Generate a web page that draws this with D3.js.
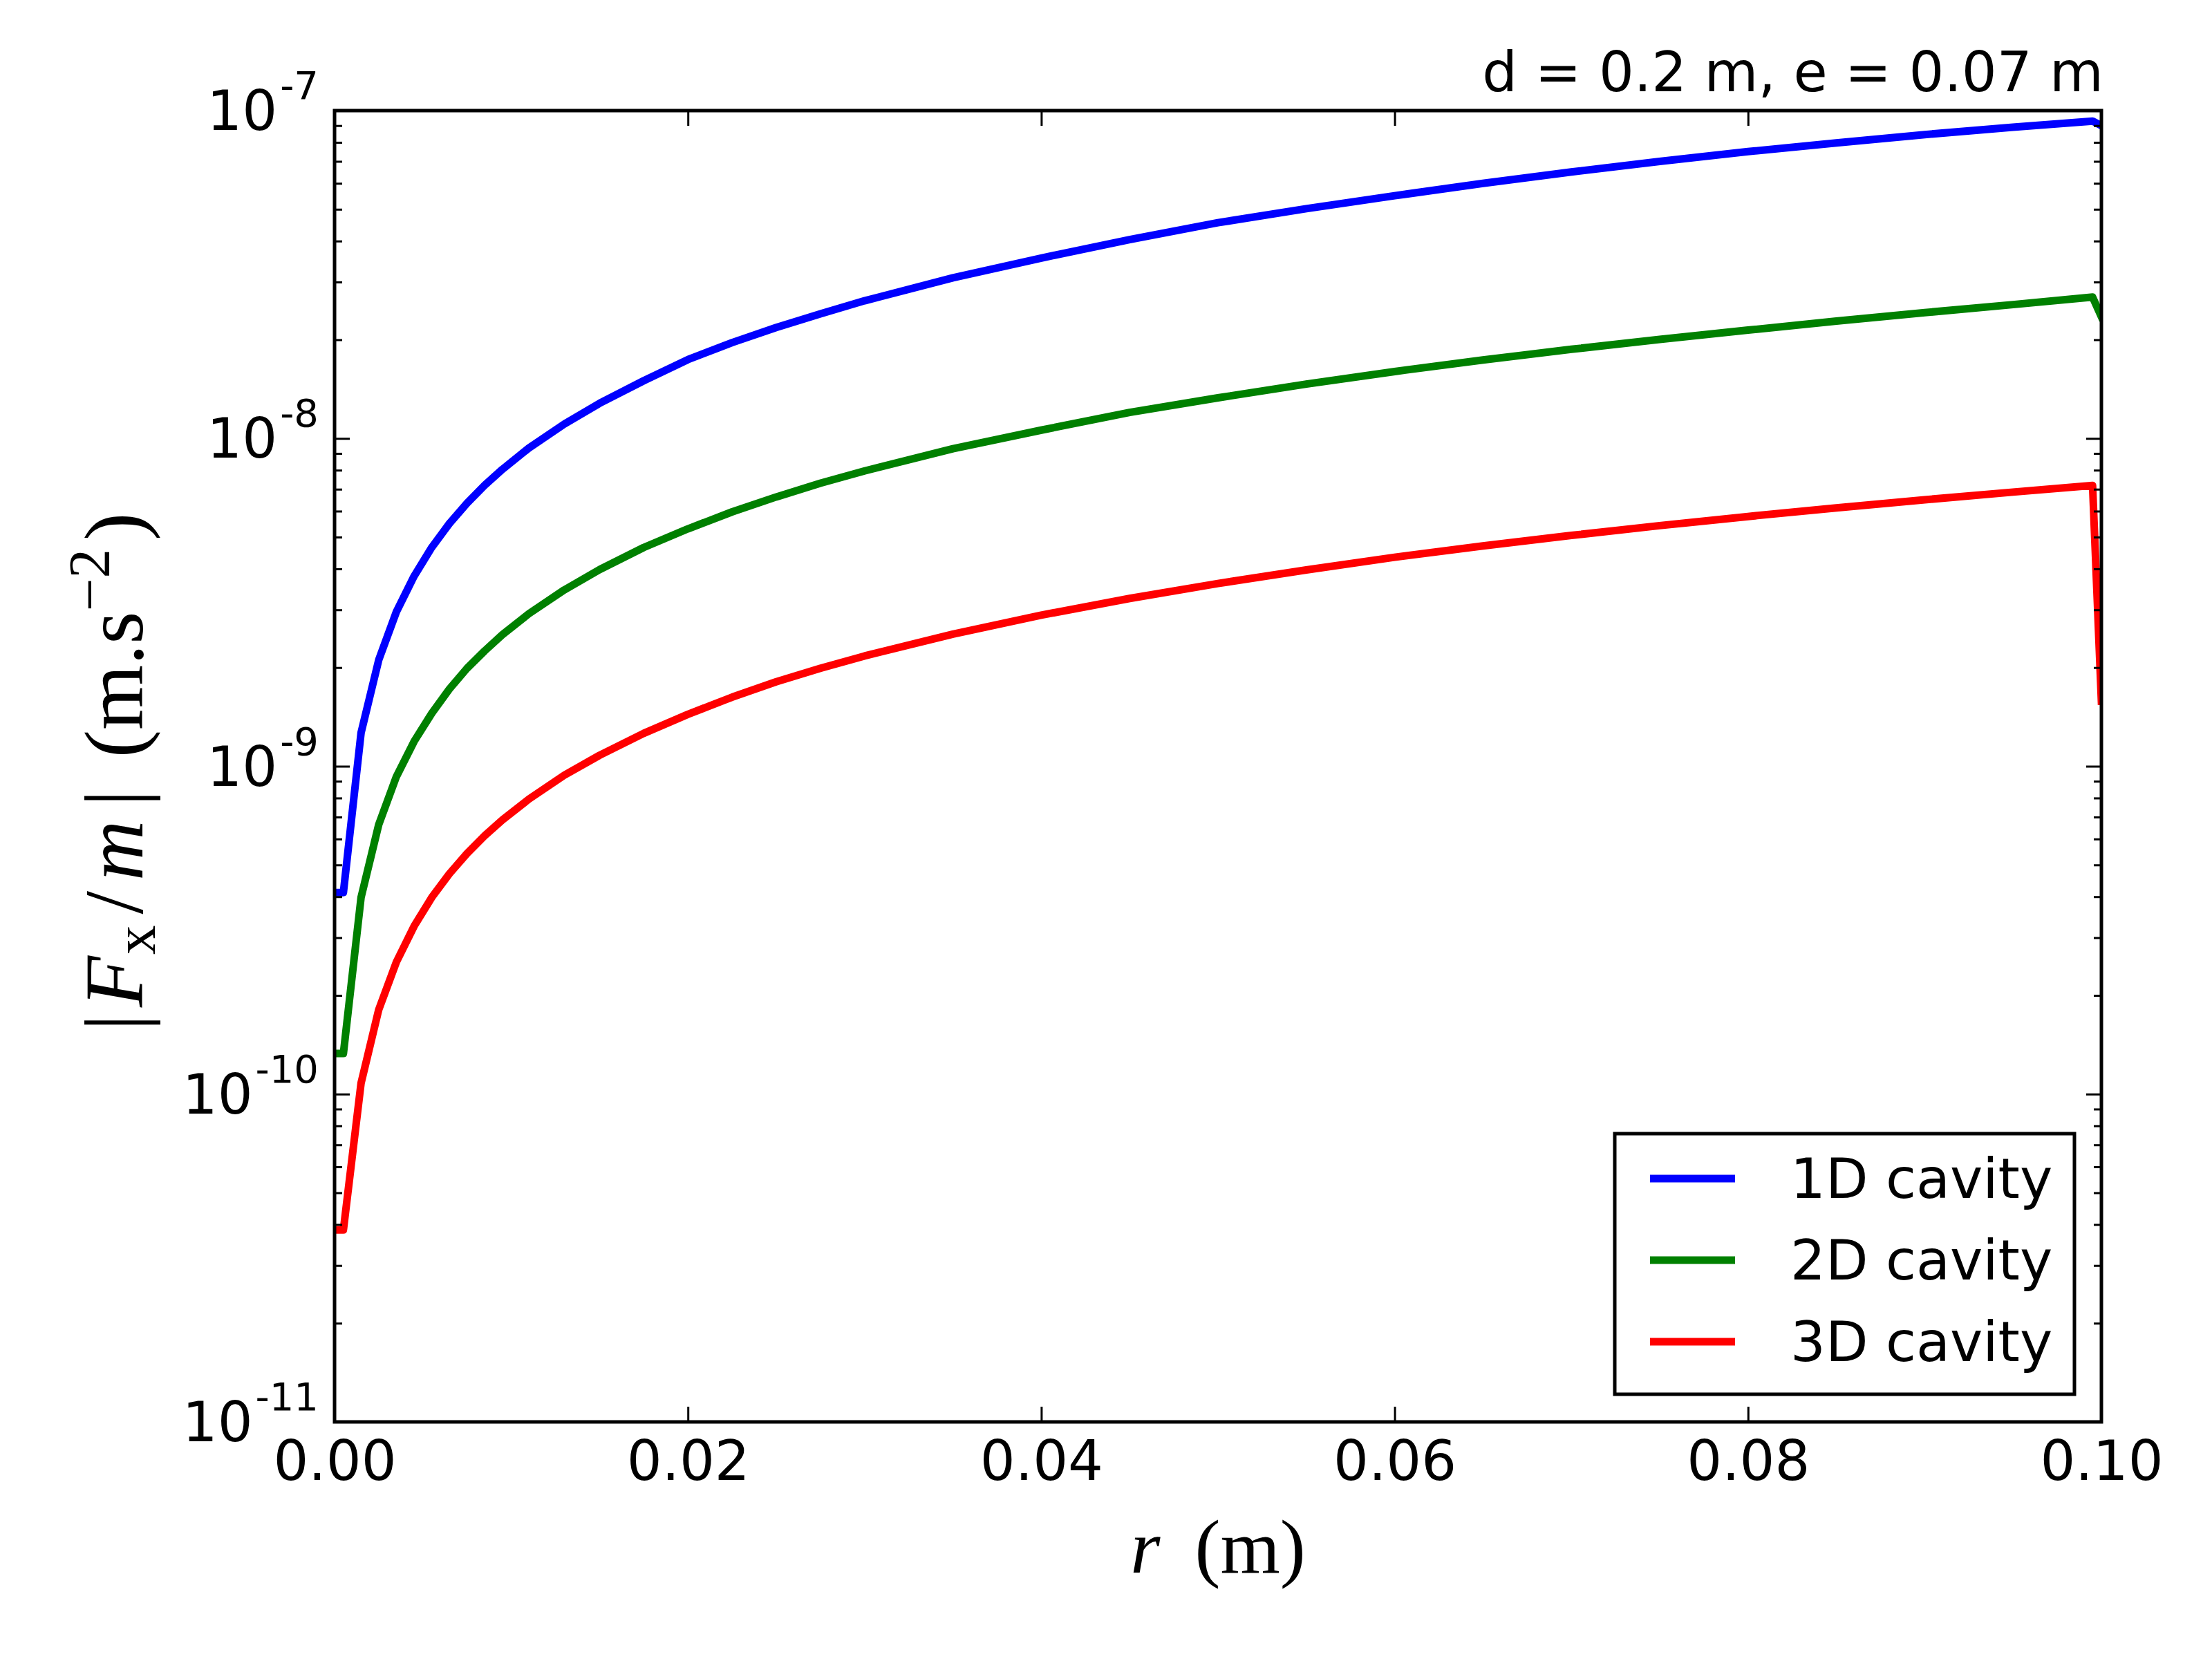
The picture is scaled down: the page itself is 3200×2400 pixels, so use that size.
<!DOCTYPE html>
<meta charset="utf-8">
<script src="https://d3js.org/d3.v7.min.js"></script>
<style type="text/css">
body { margin: 0; background: #fff; }
.axis path { display: none; }
.axis line { stroke: #000; stroke-width: 3; }
.axis text { font-family: "DejaVu Sans"; font-size: 80px; fill: #000; }
.rotulo { font-family: "DejaVu Sans"; font-size: 80px; fill: #000; }
.tex { font-family: "Liberation Serif", "DejaVu Serif", serif; fill: #000; }
</style>
<body>
<div id="canvas"></div>
<script>

// valores de r (m)
var rValues = [0, 0.0005, 0.0015, 0.0025, 0.0035, 0.0045, 0.0055, 0.0065, 0.0075, 0.0085, 0.0095,
               0.011, 0.013, 0.015, 0.0175, 0.02, 0.0225, 0.025, 0.0275, 0.03, 0.035, 0.04, 0.045,
               0.05, 0.055, 0.06, 0.065, 0.07, 0.075, 0.08, 0.085, 0.09, 0.095, 0.0995, 0.1];

// |Fx/m| para cada cavidade (m.s^-2)
var cavity1D = [4.12e-10, 4.12e-10, 1.265e-9, 2.11e-9, 2.96e-9, 3.80e-9, 4.65e-9, 5.50e-9, 6.35e-9, 7.2e-9, 8.05e-9,
                9.35e-9, 1.106e-8, 1.28e-8, 1.50e-8, 1.74e-8, 1.96e-8, 2.18e-8, 2.40e-8, 2.63e-8, 3.09e-8, 3.55e-8, 4.04e-8,
                4.55e-8, 5.02e-8, 5.5e-8, 6.0e-8, 6.5e-8, 7.0e-8, 7.5e-8, 7.97e-8, 8.45e-8, 8.9e-8, 9.29e-8, 9.0e-8];
var cavity2D = [1.33e-10, 1.33e-10, 3.98e-10, 6.64e-10, 9.3e-10, 1.19e-9, 1.45e-9, 1.72e-9, 1.99e-9, 2.25e-9, 2.52e-9,
                2.92e-9, 3.45e-9, 3.98e-9, 4.65e-9, 5.3e-9, 5.97e-9, 6.63e-9, 7.3e-9, 7.96e-9, 9.3e-9, 1.06e-8, 1.2e-8,
                1.33e-8, 1.465e-8, 1.6e-8, 1.735e-8, 1.87e-8, 2.005e-8, 2.14e-8, 2.28e-8, 2.42e-8, 2.56e-8, 2.70e-8, 2.35e-8];
var cavity3D = [3.85e-11, 3.85e-11, 1.08e-10, 1.81e-10, 2.53e-10, 3.25e-10, 3.98e-10, 4.7e-10, 5.42e-10, 6.14e-10, 6.86e-10,
                7.94e-10, 9.39e-10, 1.08e-9, 1.26e-9, 1.44e-9, 1.625e-9, 1.81e-9, 1.99e-9, 2.17e-9, 2.53e-9, 2.89e-9, 3.25e-9,
                3.61e-9, 3.97e-9, 4.34e-9, 4.70e-9, 5.06e-9, 5.42e-9, 5.78e-9, 6.14e-9, 6.5e-9, 6.86e-9, 7.19e-9, 1.58e-9];

var seriesNames = ["1D cavity", "2D cavity", "3D cavity"];
var seriesColors = ["#0000ff", "#008000", "#ff0000"];

// eixos
var xTicks = [0, 0.02, 0.04, 0.06, 0.08, 0.10];
var yTicks = [1e-11, 1e-10, 1e-9, 1e-8, 1e-7];
var yExponents = ["-11", "-10", "-9", "-8", "-7"];

var width = 3200;
var height = 2400;
var margin = {top: 160, right: 160, bottom: 343, left: 484};

var svg = d3.select('#canvas')
	.append("svg")
	.attr('width', width)
	.attr('height', height);

svg.append("rect")
	.attr("width", width)
	.attr("height", height)
	.style("fill", "#fff");

var x0 = margin.left, x1 = width - margin.right;
var y0 = height - margin.bottom, y1 = margin.top;

var x = d3.scaleLinear()
	.domain([0, 0.1])
	.range([x0, x1]);

var y = d3.scaleLog()
	.domain([1e-11, 1e-7])
	.range([y0, y1]);

// curvas -------------------------------------------------------------
svg.append("clipPath")
	.attr("id", "area")
	.append("rect")
	.attr("x", x0).attr("y", y1)
	.attr("width", x1 - x0).attr("height", y0 - y1);

var line = d3.line()
	.x(function(d) { return x(d[0]); })
	.y(function(d) { return y(d[1]); });

var series = [cavity1D, cavity2D, cavity3D];

series.forEach(function(values, i) {
	svg.append("path")
		.attr("d", line(d3.zip(rValues, values)))
		.attr("clip-path", "url(#area)")
		.style("fill", "none")
		.style("stroke", seriesColors[i])
		.style("stroke-width", 11)
		.style("stroke-linejoin", "round")
		.style("stroke-linecap", "square");
});

// ticks --------------------------------------------------------------
var minorTicks = y.ticks().filter(function(v) {
	return Math.abs(Math.log10(v) - Math.round(Math.log10(v))) > 1e-6;
});

svg.append("g").attr("class", "axis")
	.attr("transform", "translate(" + x0 + ",0)")
	.call(d3.axisLeft(y).tickValues(yTicks).tickSize(-22).tickFormat(""));
svg.append("g").attr("class", "axis")
	.attr("transform", "translate(" + x0 + ",0)")
	.call(d3.axisLeft(y).tickValues(minorTicks).tickSize(-11).tickFormat(""));
svg.append("g").attr("class", "axis")
	.attr("transform", "translate(" + x1 + ",0)")
	.call(d3.axisRight(y).tickValues(yTicks).tickSize(-22).tickFormat(""));
svg.append("g").attr("class", "axis")
	.attr("transform", "translate(" + x1 + ",0)")
	.call(d3.axisRight(y).tickValues(minorTicks).tickSize(-11).tickFormat(""));

svg.append("g").attr("class", "axis")
	.attr("transform", "translate(0," + y0 + ")")
	.call(d3.axisBottom(x).tickValues(xTicks).tickSize(-22).tickPadding(27).tickFormat(d3.format(".2f")));
svg.append("g").attr("class", "axis")
	.attr("transform", "translate(0," + y1 + ")")
	.call(d3.axisTop(x).tickValues(xTicks).tickSize(-22).tickFormat(""));

// rotulos do eixo y (10^n)
var yLabels = svg.append("g").attr("class", "rotulo");
yTicks.forEach(function(v, i) {
	var t = yLabels.append("text")
		.attr("x", x0 - 23)
		.attr("y", y(v) + 28)
		.attr("text-anchor", "end");
	t.append("tspan").text("10");
	t.append("tspan")
		.attr("dy", -45)
		.attr("dx", 4)
		.style("font-size", "56px")
		.text(yExponents[i]);
});

// moldura
svg.append("rect")
	.attr("x", x0).attr("y", y1)
	.attr("width", x1 - x0).attr("height", y0 - y1)
	.style("fill", "none")
	.style("stroke", "#000")
	.style("stroke-width", 5);

// titulo
svg.append("text")
	.attr("class", "rotulo")
	.attr("x", x1 + 3)
	.attr("y", 132)
	.attr("text-anchor", "end")
	.text("d = 0.2 m, e = 0.07 m");

// titulo eixo x
var xl = svg.append("text")
	.attr("class", "tex")
	.attr("x", (x0 + x1) / 2)
	.attr("y", 2275)
	.attr("text-anchor", "middle")
	.style("font-size", "111px");
xl.append("tspan").style("font-style", "italic").text("r");
xl.append("tspan").attr("dx", 50).text("(m)");

// titulo eixo y
var yl = svg.append("text")
	.attr("class", "tex")
	.attr("transform", "translate(206," + ((y0 + y1) / 2 + 8) + ") rotate(-90)")
	.attr("text-anchor", "middle")
	.style("font-size", "121px");
yl.append("tspan").text("|");
yl.append("tspan").attr("dx", 10).style("font-style", "italic").text("F");
yl.append("tspan").attr("dx", 2).attr("dy", 18).style("font-size", "85px").text("x");
yl.append("tspan").attr("dx", 16).attr("dy", -18).text("/");
yl.append("tspan").attr("dx", 15).style("font-style", "italic").text("m");
yl.append("tspan").attr("dx", 20).text("|");
yl.append("tspan").attr("dx", 46).text("(m.s");
yl.append("tspan").attr("dy", -48).style("font-size", "85px").text("\u22122");
yl.append("tspan").attr("dy", 48).attr("dx", 12).text(")");

// legenda ------------------------------------------------------------
var legend = svg.append("g").attr("transform", "translate(2336,1640)");
legend.append("rect")
	.attr("width", 665)
	.attr("height", 377)
	.style("fill", "#fff")
	.style("stroke", "#000")
	.style("stroke-width", 5);

seriesNames.forEach(function(name, i) {
	var ly = 65 + i * 118;
	legend.append("line")
		.attr("x1", 51).attr("x2", 174)
		.attr("y1", ly).attr("y2", ly)
		.style("stroke", seriesColors[i])
		.style("stroke-width", 11);
	legend.append("text")
		.attr("class", "rotulo")
		.attr("x", 254)
		.attr("y", ly + 28)
		.text(name);
});
</script>
</body>
